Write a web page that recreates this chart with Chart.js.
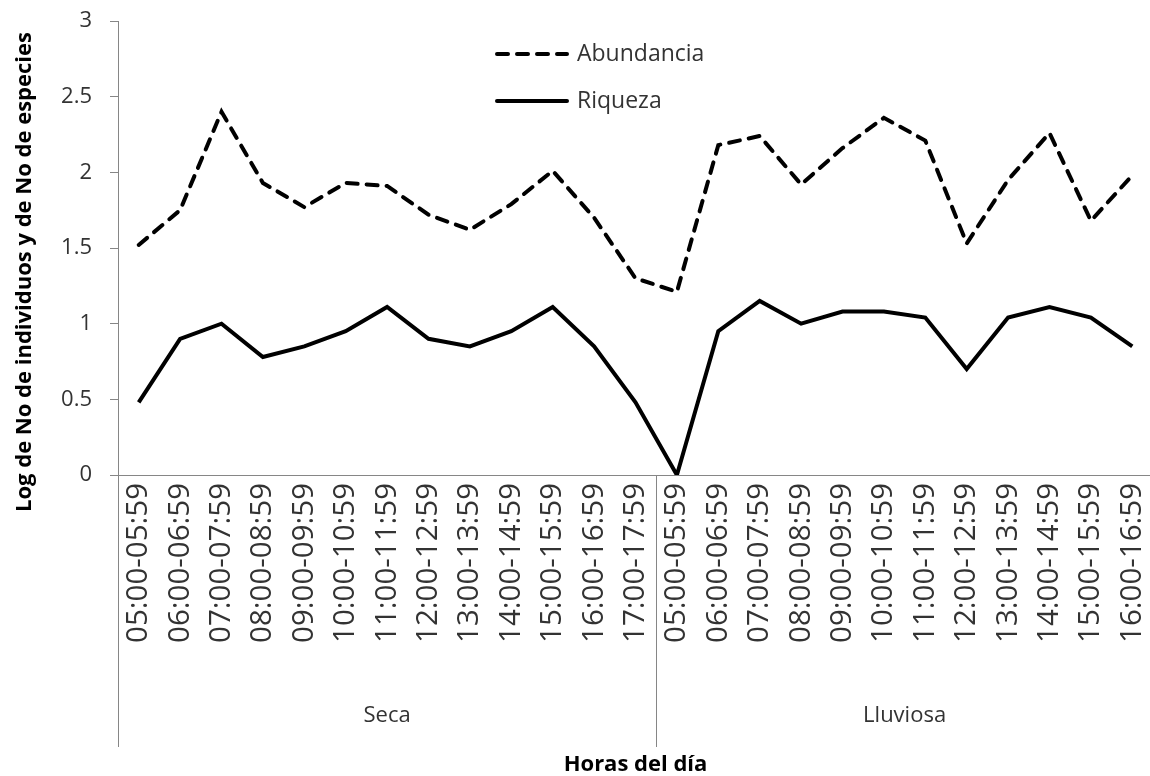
<!DOCTYPE html>
<html>
<head>
<meta charset="utf-8">
<script src="https://cdn.jsdelivr.net/npm/chart.js@4.4.0/dist/chart.umd.min.js"></script>
<style>
  html, body { margin: 0; padding: 0; background: #fff; overflow: hidden; }
</style>
</head>
<body>
<canvas id="grafico" width="1160" height="776"></canvas>
<script>
// categorie (ore del giorno per stagione)
const horasSeca = ['05:00-05:59', '06:00-06:59', '07:00-07:59', '08:00-08:59', '09:00-09:59',
  '10:00-10:59', '11:00-11:59', '12:00-12:59', '13:00-13:59', '14:00-14:59',
  '15:00-15:59', '16:00-16:59', '17:00-17:59'];
const horasLluviosa = ['05:00-05:59', '06:00-06:59', '07:00-07:59', '08:00-08:59', '09:00-09:59',
  '10:00-10:59', '11:00-11:59', '12:00-12:59', '13:00-13:59', '14:00-14:59',
  '15:00-15:59', '16:00-16:59'];
const temporadas = ['Seca', 'Lluviosa'];

// serie
const abundancia = [1.52, 1.75, 2.40, 1.93, 1.77, 1.93, 1.91, 1.72, 1.62, 1.79, 2.01, 1.70, 1.30,
  1.21, 2.18, 2.24, 1.92, 2.16, 2.36, 2.21, 1.53, 1.95, 2.26, 1.68, 1.98];
const riqueza = [0.48, 0.90, 1.00, 0.78, 0.85, 0.95, 1.11, 0.90, 0.85, 0.95, 1.11, 0.85, 0.48,
  0.00, 0.95, 1.15, 1.00, 1.08, 1.08, 1.04, 0.70, 1.04, 1.11, 1.04, 0.85];

// assi
const yTicks = [0, 0.5, 1, 1.5, 2, 2.5, 3];
const tituloY = 'Log de No de individuos y de No de especies';
const tituloX = 'Horas del día';

const horas = horasSeca.concat(horasLluviosa);
const gruppi = [horasSeca.length, horasLluviosa.length];

const FONT = "'Open Sans', sans-serif";
const GRIGIO = '#868686';
const TESTO = '#333333';

// disegna legenda, stagioni, divisori e titoli
const extras = {
  id: 'extras',
  afterDraw(chart) {
    const ctx = chart.ctx;
    const a = chart.chartArea;
    const x = chart.scales.x;
    const step = x.getPixelForValue(1) - x.getPixelForValue(0);
    ctx.save();

    // divisori e nomi stagioni
    let start = 0;
    ctx.strokeStyle = GRIGIO;
    ctx.lineWidth = 1;
    ctx.fillStyle = TESTO;
    ctx.font = '22px ' + FONT;
    ctx.textAlign = 'center';
    ctx.textBaseline = 'middle';
    for (let g = 0; g < gruppi.length; g++) {
      const x0 = x.getPixelForValue(start) - step / 2;
      const x1 = x.getPixelForValue(start + gruppi[g] - 1) + step / 2;
      ctx.beginPath();
      ctx.moveTo(Math.round(x0) + 0.5, a.bottom);
      ctx.lineTo(Math.round(x0) + 0.5, 747);
      ctx.stroke();
      ctx.fillText(temporadas[g], (x0 + x1) / 2, 716);
      start += gruppi[g];
    }

    // titoli assi
    ctx.font = 'bold 22px ' + FONT;
    ctx.fillStyle = '#000';
    ctx.fillText(tituloX, (a.left + a.right) / 2, 765);
    ctx.save();
    ctx.translate(25, 272);
    ctx.rotate(-Math.PI / 2);
    ctx.fillText(tituloY, 0, 0);
    ctx.restore();

    // legenda
    ctx.font = '23px ' + FONT;
    ctx.textAlign = 'left';
    chart.data.datasets.forEach(function(ds, i) {
      const ly = 54 + i * 47;
      ctx.strokeStyle = ds.borderColor;
      ctx.lineWidth = ds.borderWidth;
      ctx.lineCap = 'round';
      ctx.setLineDash(ds.borderDash || []);
      ctx.beginPath();
      ctx.moveTo(497, ly);
      ctx.lineTo(567, ly);
      ctx.stroke();
      ctx.setLineDash([]);
      ctx.fillStyle = TESTO;
      ctx.fillText(ds.label, 577, ly);
    });
    ctx.restore();
  }
};

new Chart(document.getElementById('grafico'), {
  type: 'line',
  data: {
    labels: horas,
    datasets: [{
      label: 'Abundancia',
      data: abundancia,
      borderColor: '#000',
      borderWidth: 4,
      borderDash: [11, 9],
      borderCapStyle: 'round',
      pointRadius: 0,
      tension: 0,
      fill: false
    }, {
      label: 'Riqueza',
      data: riqueza,
      borderColor: '#000',
      borderWidth: 4,
      borderJoinStyle: 'miter',
      pointRadius: 0,
      tension: 0,
      fill: false
    }]
  },
  options: {
    responsive: false,
    animation: false,
    layout: { padding: { left: 0, top: 21, right: 7, bottom: 0 } },
    plugins: {
      legend: { display: false },
      tooltip: { enabled: false }
    },
    scales: {
      x: {
        type: 'category',
        offset: true,
        grid: { display: true, drawOnChartArea: false, drawTicks: false, color: GRIGIO },
        border: { display: true, color: GRIGIO },
        ticks: {
          autoSkip: false,
          minRotation: 90,
          maxRotation: 90,
          padding: 8,
          color: TESTO,
          font: { family: FONT, size: 29.5 }
        },
        afterFit: function(scale) {
          scale.height = 301;
          scale.paddingLeft = 0;
          scale.paddingRight = 0;
          scale.paddingTop = 0;
          scale.paddingBottom = 0;
        }
      },
      y: {
        min: 0,
        max: 3,
        afterBuildTicks: function(scale) {
          scale.ticks = yTicks.map(function(v) { return { value: v }; });
        },
        grid: { drawOnChartArea: false, drawTicks: true, tickLength: 8, color: GRIGIO },
        border: { display: true, color: GRIGIO },
        ticks: {
          padding: 18,
          color: TESTO,
          font: { family: FONT, size: 22 },
          callback: function(v) { return String(v); }
        },
        afterFit: function(scale) {
          scale.width = 118;
          scale.paddingTop = 0;
          scale.paddingBottom = 0;
        }
      }
    }
  },
  plugins: [extras]
});
</script>
</body>
</html>
